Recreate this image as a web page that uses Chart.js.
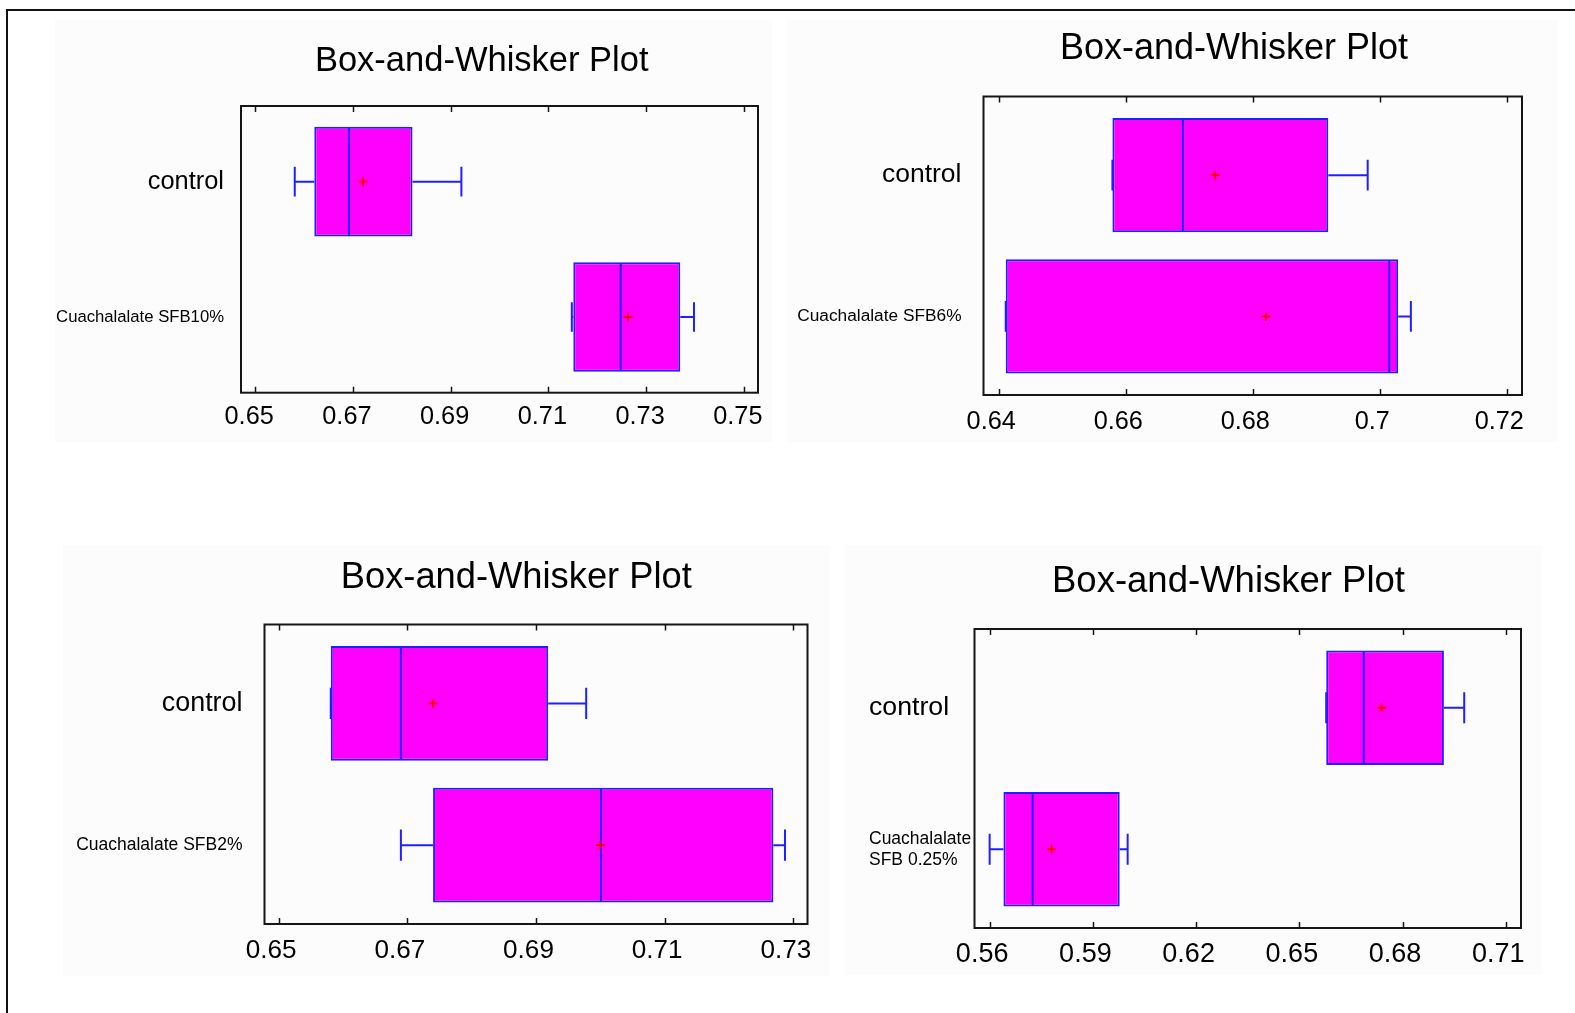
<!DOCTYPE html>
<html>
<head>
<meta charset="utf-8">
<title>Box-and-Whisker Plots</title>
<script src="https://cdn.jsdelivr.net/npm/chart.js@4.4.1/dist/chart.umd.min.js"></script>
<style>
  html, body { margin: 0; padding: 0; background: #ffffff; overflow: hidden; width: 1575px; height: 1013px; }
  .sheet { position: absolute; left: 6px; top: 9px; width: 1620px; height: 1100px;
           border-top: 2px solid #111; border-left: 2px solid #111; }
  .pane { position: absolute; background: #fcfcfc; }
  canvas { position: absolute; display: block; }
</style>
</head>
<body>
<div class="sheet"></div>
<div class="pane" style="left:55px;top:20px;width:717px;height:422px"></div>
<div class="pane" style="left:787px;top:20px;width:771px;height:422px"></div>
<div class="pane" style="left:63px;top:545px;width:767px;height:431px"></div>
<div class="pane" style="left:845px;top:545px;width:697px;height:430px"></div>
<canvas id="plotA"></canvas>
<canvas id="plotB"></canvas>
<canvas id="plotC"></canvas>
<canvas id="plotD"></canvas>
<script>
// ---------- data: five-number summaries and means ----------
// Panel A: control vs Cuachalalate SFB10%
const groupsA = ['control', 'Cuachalalate SFB10%'];
const axisA   = [0.6471, 0.7529];
const ticksA  = [0.65, 0.67, 0.69, 0.71, 0.73, 0.75];
const minA    = [0.6581, 0.7148];
const q1A     = [0.6621, 0.7151];
const medianA = [0.6692, 0.7248];
const q3A     = [0.6822, 0.7370];
const maxA    = [0.6922, 0.7398];
const meanA   = [0.6721, 0.7263];

// Panel B: control vs Cuachalalate SFB6%
const groupsB = ['control', 'Cuachalalate SFB6%'];
const axisB   = [0.6376, 0.7224];
const ticksB  = [0.64, 0.66, 0.68, 0.70, 0.72];
const minB    = [0.6579, 0.6411];
const q1B     = [0.6579, 0.6411];
const medianB = [0.6690, 0.7015];
const q3B     = [0.6919, 0.7029];
const maxB    = [0.6981, 0.7049];
const meanB   = [0.6741, 0.6821];

// Panel C: control vs Cuachalalate SFB2%
const groupsC = ['control', 'Cuachalalate SFB2%'];
const axisC   = [0.6478, 0.7322];
const ticksC  = [0.65, 0.67, 0.69, 0.71, 0.73];
const minC    = [0.6581, 0.6690];
const q1C     = [0.6581, 0.6740];
const medianC = [0.6690, 0.7001];
const q3C     = [0.6919, 0.7269];
const maxC    = [0.6978, 0.7287];
const meanC   = [0.6740, 0.7000];

// Panel D: control vs Cuachalalate SFB 0.25%
const groupsD = ['control', ['Cuachalalate', 'SFB 0.25%']];
const axisD   = [0.5556, 0.7144];
const ticksD  = [0.56, 0.59, 0.62, 0.65, 0.68, 0.71];
const minD    = [0.6578, 0.5600];
const q1D     = [0.6578, 0.5640];
const medianD = [0.6687, 0.5725];
const q3D     = [0.6920, 0.5978];
const maxD    = [0.6979, 0.6001];
const meanD   = [0.6739, 0.5780];

const TITLE = 'Box-and-Whisker Plot';

// ---------- styling ----------
const FONT = '"Liberation Sans", Arial, Helvetica, sans-serif';
const BOX_FILL = '#ff00ff';
const BOX_LINE = '#2020ff';
const MEAN_MARK = '#ff0000';
const FRAME = '#151515';
const INSET = 8;          // gap between frame and first/last category band
const AXIS_H = 50;        // reserved height of the value axis

// page placement of each panel (frame = plot box: left, top, right, bottom)
const layoutA = { axisLeft: 45, canvasY: 10, frame: [241, 106, 758, 392.7],
  title: [481.7, 61], titleSize: 34.5, tickSize: 25.3, tickLabelY: 417.5, labelShift: -6,
  catSizes: [25.4, 16.7], catPad: 17, catAlign: 'near' };
const layoutB = { axisLeft: 785, canvasY: 10, frame: [983.5, 96.5, 1522, 395],
  title: [1234, 49.2], titleSize: 36, tickSize: 25.3, tickLabelY: 422, labelShift: -7.5,
  catSizes: [26.5, 17.3], catPad: 22, catAlign: 'near' };
const layoutC = { axisLeft: 55, canvasY: 520, frame: [264.5, 624.5, 807.5, 924],
  title: [516.3, 578.2], titleSize: 36.3, tickSize: 26.1, tickLabelY: 950.5, labelShift: -7.5,
  catSizes: [26.9, 17.5], catPad: 22, catAlign: 'near' };
const layoutD = { axisLeft: 869, canvasY: 520, frame: [974.5, 629, 1521, 928],
  title: [1228.5, 581.8], titleSize: 36.5, tickSize: 27, tickLabelY: 955, labelShift: -7.5,
  catSizes: [26.7, 17.5], catPad: 0, catAlign: 'far' };

// plot frame with inward tick marks at top and bottom
function frameWithTicks(tickValues) {
  return {
    id: 'frameWithTicks',
    beforeDatasetsDraw(chart) {
      const { ctx, chartArea: a, scales: { x } } = chart;
      const top = a.top - INSET, bottom = a.bottom + INSET;
      ctx.save();
      ctx.strokeStyle = FRAME;
      ctx.lineWidth = 2;
      ctx.strokeRect(a.left, top, a.right - a.left, bottom - top);
      ctx.lineWidth = 1.5;
      ctx.beginPath();
      tickValues.forEach(v => {
        const px = Math.round(x.getPixelForValue(v)) + 0.5;
        ctx.moveTo(px, top); ctx.lineTo(px, top + 6);
        ctx.moveTo(px, bottom); ctx.lineTo(px, bottom - 6);
      });
      ctx.stroke();
      ctx.restore();
    }
  };
}

// whiskers, caps, median line and mean marker on top of each box
function whiskers(s) {
  return {
    id: 'whiskers',
    afterDatasetsDraw(chart) {
      const { ctx, scales: { x } } = chart;
      const px = v => x.getPixelForValue(v);
      ctx.save();
      chart.getDatasetMeta(0).data.forEach((bar, i) => {
        const yc = bar.y, h = bar.height;
        const cap = h * 0.135;
        ctx.strokeStyle = BOX_LINE;
        ctx.lineWidth = 2;
        ctx.beginPath();
        ctx.moveTo(px(s.min[i]), yc); ctx.lineTo(px(s.q1[i]), yc);
        ctx.moveTo(px(s.q3[i]), yc); ctx.lineTo(px(s.max[i]), yc);
        ctx.moveTo(px(s.min[i]), yc - cap); ctx.lineTo(px(s.min[i]), yc + cap);
        ctx.moveTo(px(s.max[i]), yc - cap); ctx.lineTo(px(s.max[i]), yc + cap);
        ctx.moveTo(px(s.median[i]), yc - h / 2 + 1); ctx.lineTo(px(s.median[i]), yc + h / 2 - 1);
        ctx.stroke();
        const mx = px(s.mean[i]);
        ctx.strokeStyle = MEAN_MARK;
        ctx.lineWidth = 1.8;
        ctx.beginPath();
        ctx.moveTo(mx - 4.5, yc); ctx.lineTo(mx + 4.5, yc);
        ctx.moveTo(mx, yc - 4.5); ctx.lineTo(mx, yc + 4.5);
        ctx.stroke();
      });
      ctx.restore();
    }
  };
}

function boxPanel(canvasId, s, L) {
  const [fl, ft, fr, fb] = L.frame;
  const areaTop = ft + INSET, areaBottom = fb - INSET;

  // the label axis starts at the canvas' left edge; the full-width title is
  // centred between there and titleRight, the plot stops at the frame's right edge
  const canvasX = L.axisLeft;
  const titleRight = 2 * L.title[0] - L.axisLeft;
  const cw = Math.ceil(titleRight - canvasX) + 2;
  const canvasRight = canvasX + cw;
  const padRight = canvasRight - titleRight;
  const labelAxisWidth = fl - L.axisLeft;
  const valuePadRight = canvasRight - fr;

  const ch = Math.round(areaBottom - L.canvasY + AXIS_H + 4);
  const padBottom = ch - (areaBottom - L.canvasY + AXIS_H);

  const titleTop = L.title[1] - L.canvasY - 0.6 * L.titleSize;
  const titleBottom = areaTop - L.canvasY - titleTop - 1.2 * L.titleSize;
  const tickPad = L.tickLabelY - areaBottom - 0.6 * L.tickSize;

  const canvas = document.getElementById(canvasId);
  canvas.width = cw;
  canvas.height = ch;
  canvas.style.left = canvasX + 'px';
  canvas.style.top = L.canvasY + 'px';

  return new Chart(canvas, {
    type: 'bar',
    data: {
      labels: s.groups,
      datasets: [{
        data: s.q1.map((v, i) => [v, s.q3[i]]),
        backgroundColor: BOX_FILL,
        borderColor: BOX_LINE,
        borderWidth: 2,
        borderSkipped: false,
        barPercentage: 0.81,
        categoryPercentage: 1
      }]
    },
    options: {
      indexAxis: 'y',
      responsive: false,
      animation: false,
      events: [],
      layout: { padding: { left: 0, right: padRight, top: 0, bottom: padBottom } },
      plugins: {
        legend: { display: false },
        tooltip: { enabled: false },
        title: {
          display: true,
          text: TITLE,
          color: '#000',
          font: { family: FONT, size: L.titleSize, weight: 'normal', lineHeight: 1.2 },
          padding: { top: titleTop, bottom: titleBottom }
        }
      },
      scales: {
        x: {
          type: 'linear',
          min: s.axis[0],
          max: s.axis[1],
          grid: { display: false, drawTicks: false },
          border: { display: false },
          afterBuildTicks: ax => { ax.ticks = s.ticks.map(v => ({ value: v })); },
          afterFit: ax => {
            ax.height = AXIS_H;
            ax.paddingLeft = 0;
            ax.paddingRight = valuePadRight;
            ax.paddingTop = 0;
            ax.paddingBottom = 0;
          },
          ticks: {
            autoSkip: false,
            maxRotation: 0,
            minRotation: 0,
            padding: tickPad,
            labelOffset: L.labelShift,
            color: '#000',
            font: { family: FONT, size: L.tickSize, lineHeight: 1.2 },
            callback: v => String(+Number(v).toFixed(4))
          }
        },
        y: {
          type: 'category',
          grid: { display: false, drawTicks: false },
          border: { display: false },
          afterFit: ax => {
            ax.width = labelAxisWidth;
            ax.paddingTop = 0;
            ax.paddingBottom = 0;
          },
          ticks: {
            autoSkip: false,
            padding: L.catPad,
            crossAlign: L.catAlign,
            color: '#000',
            font: c => ({ family: FONT, size: c.index === 0 ? L.catSizes[0] : L.catSizes[1], lineHeight: 1.2 })
          }
        }
      }
    },
    plugins: [frameWithTicks(s.ticks), whiskers(s)]
  });
}

boxPanel('plotA', { groups: groupsA, axis: axisA, ticks: ticksA, min: minA, q1: q1A, median: medianA, q3: q3A, max: maxA, mean: meanA }, layoutA);
boxPanel('plotB', { groups: groupsB, axis: axisB, ticks: ticksB, min: minB, q1: q1B, median: medianB, q3: q3B, max: maxB, mean: meanB }, layoutB);
boxPanel('plotC', { groups: groupsC, axis: axisC, ticks: ticksC, min: minC, q1: q1C, median: medianC, q3: q3C, max: maxC, mean: meanC }, layoutC);
boxPanel('plotD', { groups: groupsD, axis: axisD, ticks: ticksD, min: minD, q1: q1D, median: medianD, q3: q3D, max: maxD, mean: meanD }, layoutD);
</script>
</body>
</html>
